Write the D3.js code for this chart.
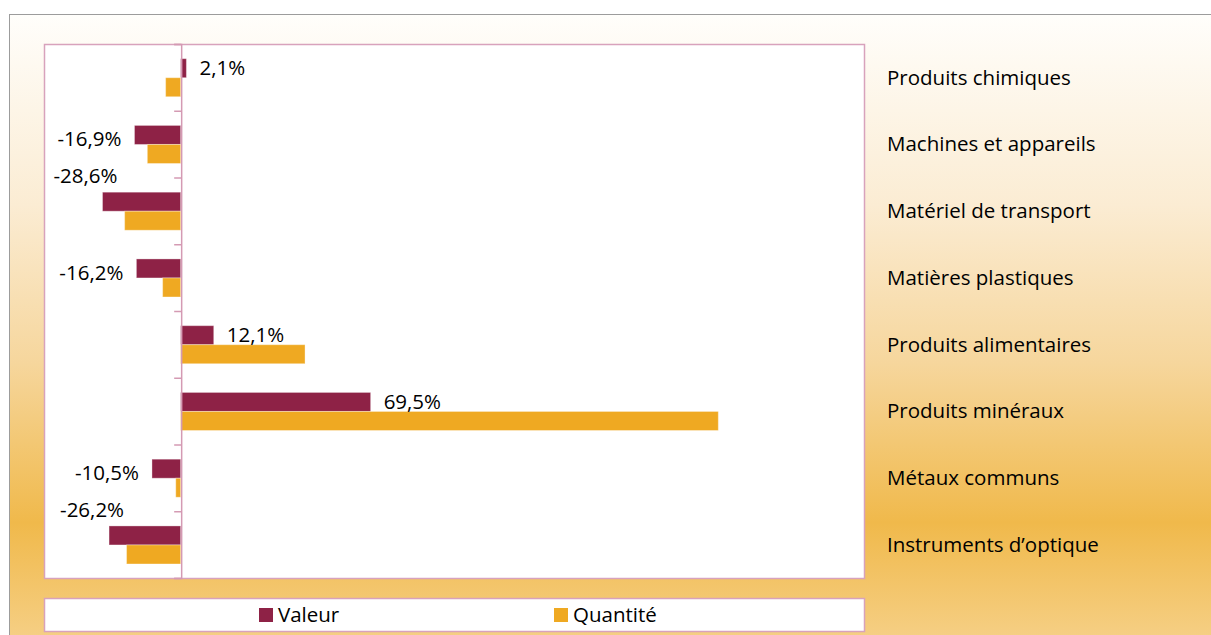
<!DOCTYPE html>
<html>
<head>
    <meta charset="utf-8">
    <script src="https://cdn.jsdelivr.net/npm/d3@7"></script>
    <style>
        body { margin: 0; background: #fff; }
        text { font-family: "Open Sans", sans-serif; fill: #000; }
    </style>
</head>

<body>
<div id="chart"></div>

<script>

    var categories = ["Produits chimiques", "Machines et appareils", "Matériel de transport",
        "Matières plastiques", "Produits alimentaires", "Produits minéraux",
        "Métaux communs", "Instruments d\u2019optique"];
    var series = ["Valeur", "Quantité"];
    var valeur = [2.1, -16.9, -28.6, -16.2, 12.1, 69.5, -10.5, -26.2];
    var quantite = [-5.5, -12.2, -20.5, -6.6, 45.5, 196.7, -1.8, -19.8];
    var colors = ["#8e2246", "#efa922"];

    var width = 1211;
    var height = 635;
    var plot = { left: 44, top: 44, right: 864, bottom: 578 };

    var rows = categories.map(function(c, i) {
        return { cat: c, values: [valeur[i], quantite[i]] };
    });

    var svg = d3.select('#chart').append('svg')
        .attr('width', width)
        .attr('height', height);

    // fond dégradé
    var grad = svg.append('defs').append('linearGradient')
        .attr('id', 'bg')
        .attr('x1', 0).attr('y1', 0).attr('x2', 0).attr('y2', 1);
    [[0, '#fffefb'], [0.3, '#fbecd3'], [0.55, '#f6d69c'], [0.8, '#f0b94b'], [1, '#f6d18a']]
        .forEach(function(s) {
            grad.append('stop').attr('offset', s[0]).attr('stop-color', s[1]);
        });

    svg.append('rect')
        .attr('x', 9.5).attr('y', 14.5)
        .attr('width', width).attr('height', height)
        .attr('fill', 'url(#bg)')
        .attr('stroke', '#9c9c9c');

    // zone de tracé
    svg.append('rect')
        .attr('x', plot.left + 0.5).attr('y', plot.top + 0.5)
        .attr('width', plot.right - plot.left).attr('height', plot.bottom - plot.top)
        .attr('fill', '#fff')
        .attr('stroke', '#d8a2bc')
        .attr('stroke-width', 1.5);

    var xScale = d3.scaleLinear()
        .domain([-50, 250])
        .range([plot.left, plot.right]);

    var yScale = d3.scaleBand()
        .domain(categories)
        .range([plot.top, plot.bottom]);

    var inner = d3.scaleBand()
        .domain(series)
        .range([yScale.bandwidth() * 0.22, yScale.bandwidth() * 0.79]);

    var groups = svg.selectAll('g.cat')
        .data(rows)
        .enter()
        .append('g')
        .attr('class', 'cat')
        .attr('transform', function(d) { return 'translate(0,' + yScale(d.cat) + ')'; });

    groups.selectAll('rect')
        .data(function(d) { return d.values; })
        .enter()
        .append('rect')
        .attr('x', function(v) { return xScale(Math.min(0, v)); })
        .attr('y', function(v, i) { return inner(series[i]); })
        .attr('width', function(v) { return Math.abs(xScale(v) - xScale(0)); })
        .attr('height', inner.bandwidth())
        .attr('fill', function(v, i) { return colors[i]; })
        .attr('stroke', 'rgba(255,255,255,0.35)')
        .attr('stroke-width', 1);

    // axe des catégories (ticks entre les catégories)
    var boundary = d3.scaleLinear().domain([0, categories.length]).range([plot.top, plot.bottom]);
    var axis = svg.append('g')
        .attr('transform', 'translate(' + (xScale(0) + 0.5) + ',0)')
        .call(d3.axisLeft(boundary).ticks(categories.length).tickFormat('').tickSize(7).tickSizeOuter(7));
    axis.selectAll('line, path').attr('stroke', '#d49ab3').attr('stroke-width', 1.5);

    // étiquettes de valeur
    var locale = d3.formatLocale({ decimal: ',', thousands: ' ', grouping: [3], currency: ['', ' €'], minus: '-' });
    var fmt = function(v) { return locale.format('.1f')(v) + '%'; };
    groups.append('text')
        .text(function(d) { return fmt(d.values[0]); })
        .style('font-size', '20.5px')
        .each(function(d) {
            var t = d3.select(this);
            var v = d.values[0];
            var barTop = inner(series[0]);
            var barMid = barTop + inner.bandwidth() / 2;
            var w = this.getComputedTextLength();
            if (v >= 0) {
                t.attr('x', xScale(v) + 13).attr('y', barMid).attr('dy', '0.35em');
            } else if (xScale(v) - 13 - w >= plot.left) {
                t.attr('x', xScale(v) - 13).attr('y', barMid + 4).attr('dy', '0.35em')
                    .attr('text-anchor', 'end');
            } else {
                t.attr('x', xScale(v) + 15).attr('y', barTop - 9)
                    .attr('text-anchor', 'end');
            }
        });

    // noms des catégories à droite
    svg.selectAll('text.catlabel')
        .data(categories)
        .enter()
        .append('text')
        .attr('class', 'catlabel')
        .attr('x', 887)
        .attr('y', function(d) { return yScale(d) + yScale.bandwidth() / 2; })
        .attr('dy', '0.35em')
        .style('font-size', '20.5px')
        .text(function(d) { return d; });

    // légende
    svg.append('rect')
        .attr('x', plot.left + 0.5).attr('y', 598.5)
        .attr('width', plot.right - plot.left).attr('height', 33)
        .attr('fill', '#fff')
        .attr('stroke', '#d8a2bc')
        .attr('stroke-width', 1.5);

    var legendX = [259, 554];
    var legend = svg.selectAll('g.legend')
        .data(series)
        .enter()
        .append('g')
        .attr('class', 'legend')
        .attr('transform', function(d, i) { return 'translate(' + legendX[i] + ',608)'; });

    legend.append('rect')
        .attr('width', 14).attr('height', 14)
        .attr('fill', function(d, i) { return colors[i]; });

    legend.append('text')
        .attr('x', 19).attr('y', 7)
        .attr('dy', '0.35em')
        .style('font-size', '20.5px')
        .text(function(d) { return d; });

</script>
</body>
</html>
